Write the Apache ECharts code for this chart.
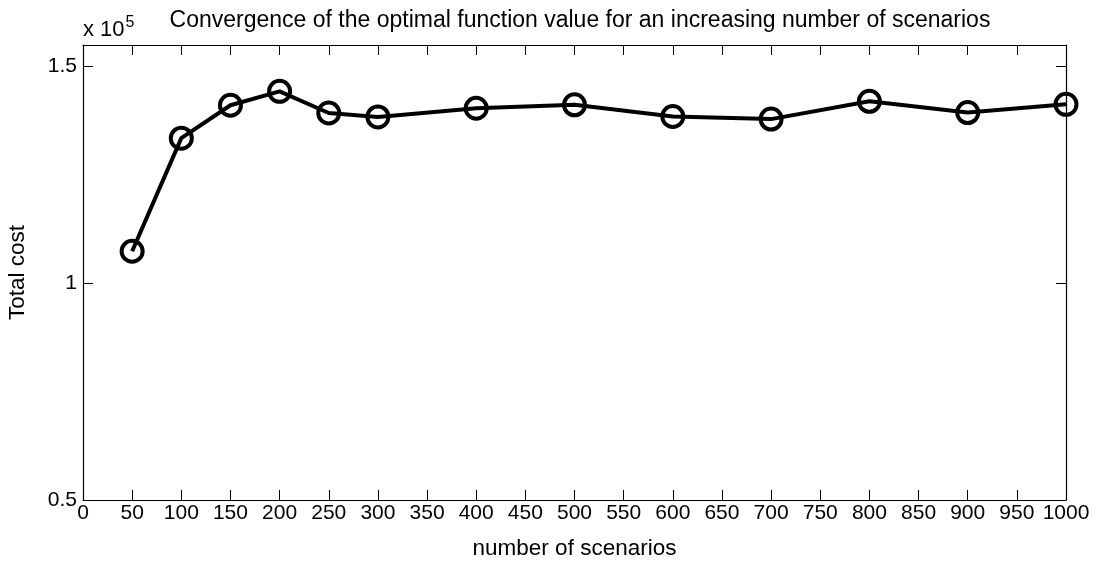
<!DOCTYPE html>
<html>
<head>
<meta charset="utf-8">
<script src="https://cdn.jsdelivr.net/npm/echarts@6/dist/echarts.min.js"></script>
<style>html,body{margin:0;padding:0;background:#fff;}#c{width:1100px;height:563px;}</style>
</head>
<body>
<div id="c"></div>
<script>
var scenarios = [50, 100, 150, 200, 250, 300, 400, 500, 600, 700, 800, 900, 1000];
var totalCost = [107400, 133500, 141100, 144300, 139300, 138400, 140400, 141200, 138500, 137900, 142000, 139400, 141300];
var titleText = 'Convergence of the optimal function value for an increasing number of scenarios';
var xName = 'number of scenarios';
var yName = 'Total cost';

var FONT = '"Liberation Sans", Arial, sans-serif';
var chart = echarts.init(document.getElementById('c'));
var axisCommon = {
  axisLine: {show: true, onZero: false, lineStyle: {color: '#000', width: 1.2}},
  axisTick: {show: true, inside: true, length: 10, lineStyle: {color: '#000', width: 1}},
  splitLine: {show: false}
};
chart.setOption({
  animation: false,
  backgroundColor: '#fff',
  title: [{
    text: titleText,
    left: 575, top: 4, textAlign: 'center',
    textStyle: {fontFamily: FONT, fontSize: 23, fontWeight: 'normal', color: '#000'}
  }, {
    text: 'x 10{sup|5}',
    left: 78, top: 10,
    textStyle: {fontFamily: FONT, fontSize: 22, fontWeight: 'normal', color: '#000',
      rich: {sup: {fontFamily: FONT, fontSize: 16, verticalAlign: 'top', padding: [0, 0, 14, 1], color: '#000'}}}
  }],
  grid: {left: 83, right: 34, top: 45, bottom: 63, containLabel: false, outerBoundsMode: 'none'},
  xAxis: [
    Object.assign({
      type: 'value', min: 0, max: 1000, interval: 50, position: 'bottom',
      name: xName, nameLocation: 'middle', nameGap: 37,
      nameTextStyle: {fontFamily: FONT, fontSize: 22.5, color: '#000'},
      axisLabel: {fontFamily: FONT, fontSize: 21, color: '#000', margin: 3,
        formatter: function (v) { return String(v); }}
    }, axisCommon),
    Object.assign({
      type: 'value', min: 0, max: 1000, interval: 50, position: 'top',
      axisLabel: {show: false}
    }, axisCommon)
  ],
  yAxis: [
    Object.assign({
      type: 'value', min: 50000, max: 155000, interval: 50000, position: 'left',
      name: yName, nameLocation: 'middle', nameGap: 54,
      nameTextStyle: {fontFamily: FONT, fontSize: 22.5, color: '#000'},
      axisLabel: {fontFamily: FONT, fontSize: 21, color: '#000', margin: 6,
        formatter: function (v) { return (v % 50000 === 0) ? String(v / 100000) : ''; }}
    }, axisCommon),
    Object.assign({
      type: 'value', min: 50000, max: 155000, interval: 50000, position: 'right',
      axisLabel: {show: false}
    }, axisCommon)
  ],
  series: [{
    type: 'line',
    data: scenarios.map(function (s, i) { return [s, totalCost[i]]; }),
    symbol: 'circle', symbolSize: 21,
    clip: false,
    lineStyle: {color: '#000', width: 4},
    itemStyle: {color: 'rgba(0,0,0,0)', borderColor: '#000', borderWidth: 4},
    emphasis: {disabled: true}
  }]
});
</script>
</body>
</html>
